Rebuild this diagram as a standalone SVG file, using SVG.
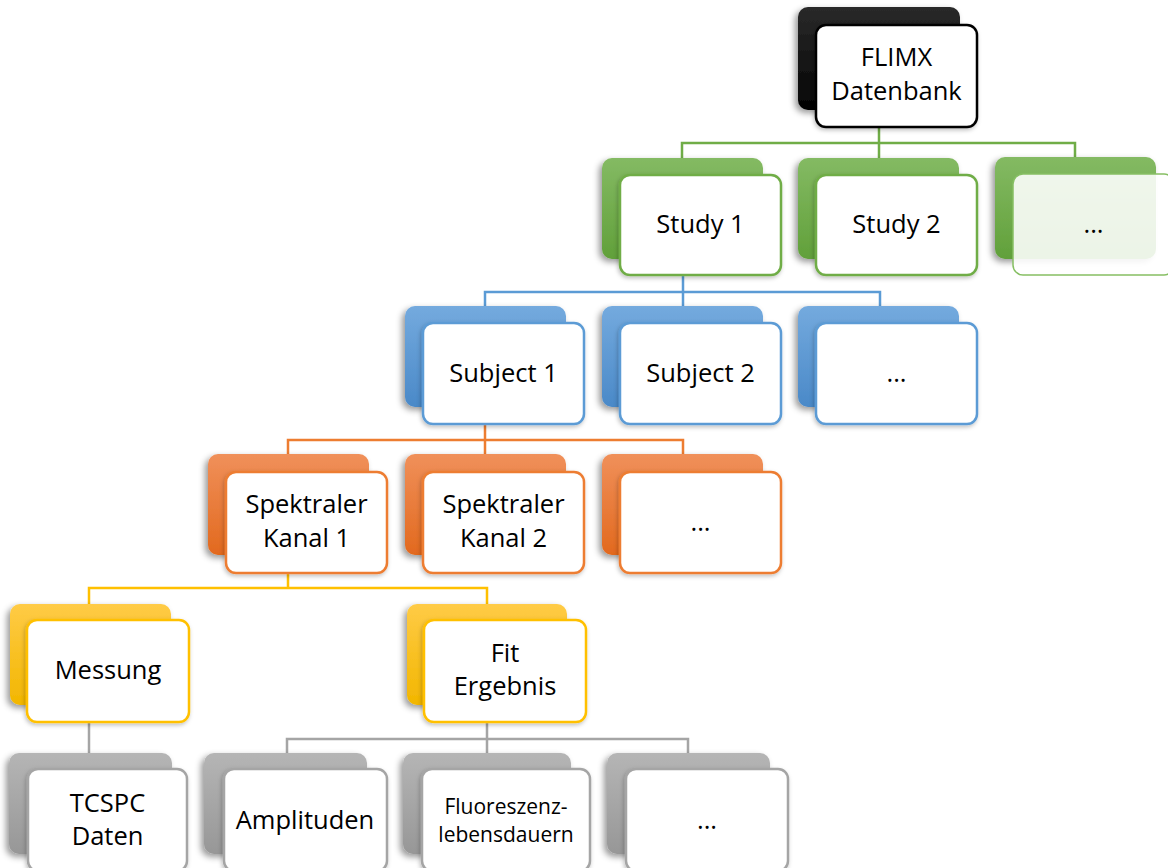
<svg xmlns="http://www.w3.org/2000/svg" width="1168" height="868" viewBox="0 0 1168 868">
  <defs>
    <linearGradient id="gBlack" x1="0" y1="0" x2="0" y2="1">
      <stop offset="0" stop-color="#2a2a2a"/><stop offset="1" stop-color="#030303"/>
    </linearGradient>
    <linearGradient id="gGreen" x1="0" y1="0" x2="0" y2="1">
      <stop offset="0" stop-color="#84ba63"/><stop offset="1" stop-color="#61a03a"/>
    </linearGradient>
    <linearGradient id="gBlue" x1="0" y1="0" x2="0" y2="1">
      <stop offset="0" stop-color="#74aade"/><stop offset="1" stop-color="#4a89c8"/>
    </linearGradient>
    <linearGradient id="gOrange" x1="0" y1="0" x2="0" y2="1">
      <stop offset="0" stop-color="#f0905a"/><stop offset="1" stop-color="#e2691e"/>
    </linearGradient>
    <linearGradient id="gYellow" x1="0" y1="0" x2="0" y2="1">
      <stop offset="0" stop-color="#ffcb46"/><stop offset="1" stop-color="#f2b600"/>
    </linearGradient>
    <linearGradient id="gGray" x1="0" y1="0" x2="0" y2="1">
      <stop offset="0" stop-color="#b5b5b5"/><stop offset="1" stop-color="#979797"/>
    </linearGradient>
    <filter id="shBack" x="-20%" y="-20%" width="140%" height="150%">
      <feDropShadow dx="-3" dy="3" stdDeviation="3" flood-color="#000" flood-opacity="0.4"/>
    </filter>
    <filter id="shFront" x="-20%" y="-20%" width="140%" height="150%">
      <feDropShadow dx="-1" dy="2" stdDeviation="2" flood-color="#000" flood-opacity="0.25"/>
    </filter>
  </defs>
  <style>
    .back { filter: url(#shBack); }
    .front { fill: #ffffff; stroke-width: 2.5; filter: url(#shFront); }
    .k .back { fill: url(#gBlack); } .k .front { stroke: #000000; }
    .g .back { fill: url(#gGreen); } .g .front { stroke: #70ad47; }
    .b .back { fill: url(#gBlue); } .b .front { stroke: #5b9bd5; }
    .o .back { fill: url(#gOrange); } .o .front { stroke: #ed7d31; }
    .y .back { fill: url(#gYellow); } .y .front { stroke: #ffc000; }
    .s .back { fill: url(#gGray); } .s .front { stroke: #a5a5a5; }
    text { font-family: "Open Sans", "Liberation Sans", sans-serif; font-size: 25.5px; fill: #000; text-anchor: middle; }
    text.sm { font-size: 21px; }
    .conn path { fill: none; stroke-width: 2.5; }
  </style>

  <g id="connectors" class="conn">
    <path d="M879,110 V143 M682,158 V143 H1075 V158 M879,143 V158" stroke="#70ad47"/>
    <path d="M683,270 V292 M485,307 V292 H880 V307 M683,292 V307" stroke="#5b9bd5"/>
    <path d="M485,418 V440 M288,455 V440 H683 V455 M485,440 V455" stroke="#ed7d31"/>
    <path d="M288,568 V588 M89,605 V588 H487 V605" stroke="#ffc000"/>
    <path d="M89,715 V753" stroke="#a5a5a5"/>
    <path d="M487,715 V739 M287,753 V739 H688 V753 M487,739 V753" stroke="#a5a5a5"/>
  </g>

  <g id="node-flimx" class="k">
    <rect class="back" x="798" y="7" width="162" height="103" rx="10"/>
    <rect class="front" x="816" y="25" width="161" height="102" rx="10"/>
    <text x="896.5" y="66">FLIMX</text>
    <text x="896.5" y="100">Datenbank</text>
  </g>

  <g id="node-study1" class="g">
    <rect class="back" x="602" y="158" width="161" height="101" rx="10"/>
    <rect class="front" x="620" y="175" width="161" height="100" rx="10"/>
    <text x="700.5" y="233">Study 1</text>
  </g>
  <g id="node-study2" class="g">
    <rect class="back" x="798" y="158" width="161" height="101" rx="10"/>
    <rect class="front" x="816" y="175" width="161" height="100" rx="10"/>
    <text x="896.5" y="233">Study 2</text>
  </g>
  <g id="node-study-more" class="g">
    <rect class="back" x="995" y="157" width="161" height="102" rx="10"/>
    <rect x="1013" y="174" width="161" height="101" rx="10" fill="#ffffff" fill-opacity="0.88" stroke="#86bf63" stroke-width="1.5"/>
    <text x="1093.5" y="233">...</text>
  </g>

  <g id="node-subject1" class="b">
    <rect class="back" x="405" y="306" width="161" height="101" rx="10"/>
    <rect class="front" x="423" y="323" width="161" height="101" rx="10"/>
    <text x="503.5" y="382">Subject 1</text>
  </g>
  <g id="node-subject2" class="b">
    <rect class="back" x="602" y="306" width="161" height="101" rx="10"/>
    <rect class="front" x="620" y="323" width="161" height="101" rx="10"/>
    <text x="700.5" y="382">Subject 2</text>
  </g>
  <g id="node-subject-more" class="b">
    <rect class="back" x="798" y="306" width="161" height="101" rx="10"/>
    <rect class="front" x="816" y="323" width="161" height="101" rx="10"/>
    <text x="896.5" y="382">...</text>
  </g>

  <g id="node-kanal1" class="o">
    <rect class="back" x="208" y="454" width="161" height="101" rx="10"/>
    <rect class="front" x="226" y="472" width="161" height="101" rx="10"/>
    <text x="306.5" y="513">Spektraler</text>
    <text x="306.5" y="547">Kanal 1</text>
  </g>
  <g id="node-kanal2" class="o">
    <rect class="back" x="405" y="454" width="161" height="101" rx="10"/>
    <rect class="front" x="423" y="472" width="161" height="101" rx="10"/>
    <text x="503.5" y="513">Spektraler</text>
    <text x="503.5" y="547">Kanal 2</text>
  </g>
  <g id="node-kanal-more" class="o">
    <rect class="back" x="602" y="454" width="161" height="101" rx="10"/>
    <rect class="front" x="620" y="472" width="161" height="101" rx="10"/>
    <text x="700.5" y="531">...</text>
  </g>

  <g id="node-messung" class="y">
    <rect class="back" x="10" y="604" width="161" height="101" rx="10"/>
    <rect class="front" x="27" y="620" width="162" height="102" rx="10"/>
    <text x="108" y="679">Messung</text>
  </g>
  <g id="node-fit" class="y">
    <rect class="back" x="407" y="604" width="160" height="101" rx="10"/>
    <rect class="front" x="424" y="620" width="162" height="102" rx="10"/>
    <text x="505" y="662">Fit</text>
    <text x="505" y="695">Ergebnis</text>
  </g>

  <g id="node-tcspc" class="s">
    <rect class="back" x="9" y="753" width="163" height="101" rx="10"/>
    <rect class="front" x="28" y="769" width="159" height="102" rx="10"/>
    <text x="107.5" y="812">TCSPC</text>
    <text x="107.5" y="845">Daten</text>
  </g>
  <g id="node-amplituden" class="s">
    <rect class="back" x="204" y="753" width="163" height="101" rx="10"/>
    <rect class="front" x="224" y="769" width="163" height="102" rx="10"/>
    <text x="305" y="829">Amplituden</text>
  </g>
  <g id="node-lebensdauern" class="s">
    <rect class="back" x="403" y="753" width="168" height="101" rx="10"/>
    <rect class="front" x="422" y="769" width="168" height="102" rx="10"/>
    <text class="sm" x="506" y="814">Fluoreszenz-</text>
    <text class="sm" x="506" y="842">lebensdauern</text>
  </g>
  <g id="node-fit-more" class="s">
    <rect class="back" x="607" y="753" width="163" height="101" rx="10"/>
    <rect class="front" x="626" y="769" width="162" height="102" rx="10"/>
    <text x="707" y="829">...</text>
  </g>
</svg>
